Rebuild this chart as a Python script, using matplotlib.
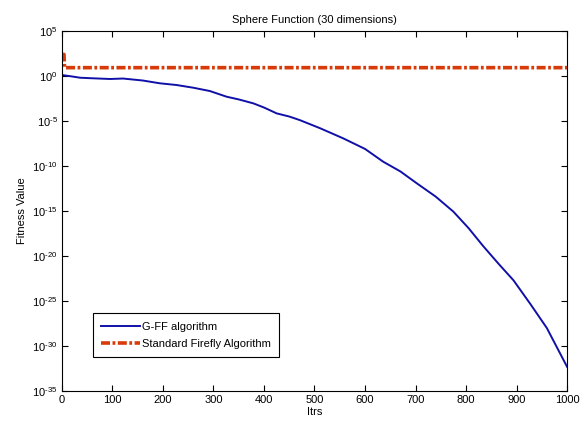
import numpy as np
import matplotlib.pyplot as plt

plt.rcParams['font.family'] = ['Liberation Sans', 'DejaVu Sans']
plt.rcParams['mathtext.default'] = 'regular'
plt.rcParams['lines.scale_dashes'] = False

# G-FF algorithm: iteration and log10(fitness)
gff_iters = [0, 20, 36, 60, 95, 121, 160, 194, 227, 260, 293, 326, 350, 379,
             400, 425, 450, 471, 511, 557, 600, 636, 670, 702, 740, 775, 805,
             834, 865, 894, 927, 960, 1000]
gff_log = [0.11, -0.05, -0.19, -0.25, -0.33, -0.28, -0.5, -0.81, -1.0, -1.3,
           -1.67, -2.3, -2.6, -3.04, -3.5, -4.15, -4.5, -4.9, -5.8, -6.93,
           -8.1, -9.52, -10.6, -11.9, -13.4, -15.07, -16.9, -18.9, -20.9,
           -22.7, -25.3, -28.0, -32.3]

# Standard Firefly Algorithm
sfa_iters = [0, 4, 5, 1000]
sfa_vals = [250.0, 250.0, 8.5, 8.5]

xticks = [0, 100, 200, 300, 400, 500, 600, 700, 800, 900, 1000]
yexps = [5, 0, -5, -10, -15, -20, -25, -30, -35]

fig = plt.figure(figsize=(5.83, 4.25), dpi=100)
ax = fig.add_axes([0.1063, 0.08, 0.8663, 0.847])

gff_vals = 10.0 ** np.array(gff_log)
ax.plot(gff_iters, gff_vals, color='#1010a8', lw=1.4, label='G-FF algorithm')
red, = ax.plot(sfa_iters, sfa_vals, color='#d83a0a', lw=2.6,
               label='Standard Firefly Algorithm')
red.set_dashes([6.5, 1.8, 2.0, 1.8])

ax.set_yscale('log')
ax.set_xlim(0, 1000)
ax.set_ylim(1e-35, 1e5)
ax.set_xticks(xticks)
ax.set_xticklabels([str(t) for t in xticks])
ax.set_yticks([10.0 ** e for e in yexps])
# MATLAB style labels: plain hyphen in the exponent
ax.set_yticklabels([r'$10^{%s}$' % str(e).replace('-', '\u2010') for e in yexps])
ax.yaxis.set_minor_locator(plt.NullLocator())
ax.tick_params(direction='in', top=True, right=True, length=4, width=0.8,
               labelsize=8, pad=3)
for s in ax.spines.values():
    s.set_linewidth(0.8)

ax.set_title('Sphere Function (30 dimensions)', fontsize=8, pad=6)
ax.set_xlabel('Itrs', fontsize=8, labelpad=1)
ax.set_ylabel('Fitness Value', fontsize=8, labelpad=4)

leg = ax.legend(loc='lower left', bbox_to_anchor=(0.061, 0.094), fontsize=8,
                fancybox=False, framealpha=1, edgecolor='black',
                borderaxespad=0, handlelength=3.5, borderpad=0.75,
                labelspacing=0.65, handletextpad=0.2)
leg.get_frame().set_linewidth(0.8)

fig.savefig('out.png', dpi=100)
